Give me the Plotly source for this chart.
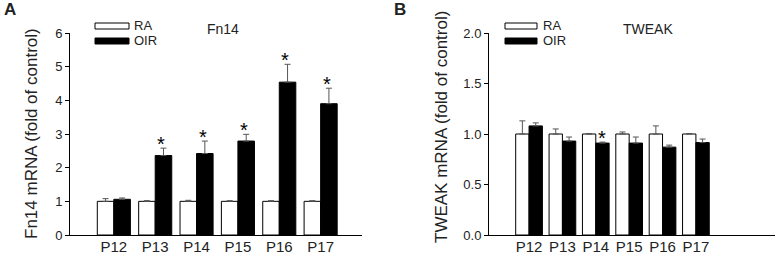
import plotly.graph_objects as go

categories = ["P12", "P13", "P14", "P15", "P16", "P17"]

# Panel A: Fn14
fn14_ra = [1.0, 1.0, 1.0, 1.0, 1.0, 1.0]
fn14_ra_err = [0.08, 0.02, 0.03, 0.02, 0.02, 0.02]
fn14_oir = [1.06, 2.36, 2.42, 2.79, 4.54, 3.90]
fn14_oir_err = [0.04, 0.22, 0.37, 0.20, 0.53, 0.46]
fn14_sig = [False, True, True, True, True, True]

# Panel B: TWEAK
tweak_ra = [1.0, 1.0, 1.0, 1.0, 1.0, 1.0]
tweak_ra_err = [0.13, 0.05, 0.005, 0.02, 0.08, 0.005]
tweak_oir = [1.08, 0.93, 0.91, 0.91, 0.87, 0.915]
tweak_oir_err = [0.03, 0.04, 0.01, 0.06, 0.02, 0.035]
tweak_sig = [False, False, True, False, False, False]

xs = list(range(len(categories)))
FONT = "Liberation Sans, Arial, sans-serif"
ERR_COLOR = "#555555"

fig = go.Figure()


def add_panel(ra, ra_err, oir, oir_err, xa, ya):
    zeros = [0] * len(ra)
    fig.add_trace(go.Bar(
        x=xs, y=ra, name="RA", xaxis=xa, yaxis=ya,
        marker=dict(color="white", line=dict(color="black", width=1)),
        error_y=dict(type="data", symmetric=False, array=ra_err, arrayminus=zeros,
                     color=ERR_COLOR, thickness=1, width=3),
        showlegend=False))
    fig.add_trace(go.Bar(
        x=xs, y=oir, name="OIR", xaxis=xa, yaxis=ya,
        marker=dict(color="black", line=dict(color="black", width=1)),
        error_y=dict(type="data", symmetric=False, array=oir_err, arrayminus=zeros,
                     color=ERR_COLOR, thickness=1, width=3),
        showlegend=False))


add_panel(fn14_ra, fn14_ra_err, fn14_oir, fn14_oir_err, "x", "y")
add_panel(tweak_ra, tweak_ra_err, tweak_oir, tweak_oir_err, "x2", "y2")

annotations = []


def add_stars(oir, oir_err, sig, xref, yref, offset):
    for i, (v, e, s) in enumerate(zip(oir, oir_err, sig)):
        if s:
            annotations.append(dict(
                x=i + offset, y=v + e, xref=xref, yref=yref, text="*",
                showarrow=False, yanchor="bottom", yshift=-9,
                font=dict(family=FONT, size=20, color="black")))


add_stars(fn14_oir, fn14_oir_err, fn14_sig, "x", "y", 0.15)
add_stars(tweak_oir, tweak_oir_err, tweak_sig, "x2", "y2", 0.1875)

W, H = 777, 255


def px(x):
    return x / W


def py(y):
    return 1 - y / H


# Titles, panel labels, legend texts
texts = [
    ("A", 2, 10, 17, True, "left", 0),
    ("B", 392, 10, 17, True, "left", 0),
    ("Fn14", 205, 29, 14, False, "left", 0),
    ("TWEAK", 621, 29, 14, False, "left", 0),
    ("RA", 132, 26, 13, False, "left", 0),
    ("OIR", 132, 41, 13, False, "left", 0),
    ("RA", 541, 26, 13, False, "left", 0),
    ("OIR", 541, 41, 13, False, "left", 0),
    ("Fn14 mRNA (fold of control)", 31, 134, 17, False, "center", -90),
    ("TWEAK mRNA (fold of control)", 441, 127, 17, False, "center", -90),
]
for t, x, y, size, bold, anchor, ang in texts:
    annotations.append(dict(
        x=px(x), y=py(y), xref="paper", yref="paper",
        text=f"<b>{t}</b>" if bold else t, showarrow=False,
        xanchor=anchor, yanchor="middle", textangle=ang,
        font=dict(family=FONT, size=size, color="#222222")))

shapes = []
for x0, x1 in [(95, 129), (505, 537)]:
    shapes.append(dict(type="rect", xref="paper", yref="paper",
                       x0=px(x0), x1=px(x1), y0=py(29), y1=py(23),
                       line=dict(color="black", width=1), fillcolor="white"))
    shapes.append(dict(type="rect", xref="paper", yref="paper",
                       x0=px(x0), x1=px(x1), y0=py(44), y1=py(38),
                       line=dict(color="black", width=1), fillcolor="black"))

axis_common = dict(showline=True, linecolor="black", linewidth=1, showgrid=False,
                   zeroline=False, automargin=False, ticks="outside", ticklen=4,
                   tickcolor="black", tickfont=dict(family=FONT, size=13, color="#222222"))

xaxis_common = dict(axis_common)
xaxis_common.update(ticks="", ticklen=0, tickvals=xs, ticktext=categories,
                    ticklabelstandoff=-2,
                    tickfont=dict(family=FONT, size=15, color="#222222"))

fig.update_layout(
    width=W, height=H,
    margin=dict(l=0, r=0, t=0, b=0),
    paper_bgcolor="white", plot_bgcolor="white",
    barmode="group",
    bargroupgap=0,
    xaxis=dict(xaxis_common, domain=[px(70), px(362)], range=[-1.06, 6.0], anchor="y"),
    yaxis=dict(axis_common, domain=[py(235), py(33)], range=[0, 6], dtick=1, anchor="x"),
    xaxis2=dict(xaxis_common, domain=[px(489), px(775)], range=[-1.2, 7.37], anchor="y2"),
    yaxis2=dict(axis_common, domain=[py(235), py(33)], range=[0, 2.0], dtick=0.5,
                tickformat=".1f", anchor="x2"),
    annotations=annotations,
    shapes=shapes,
)

fig.write_html("out.html", config={"displayModeBar": False},
               post_script="document.body.style.margin='0';document.body.style.overflow='hidden';")
